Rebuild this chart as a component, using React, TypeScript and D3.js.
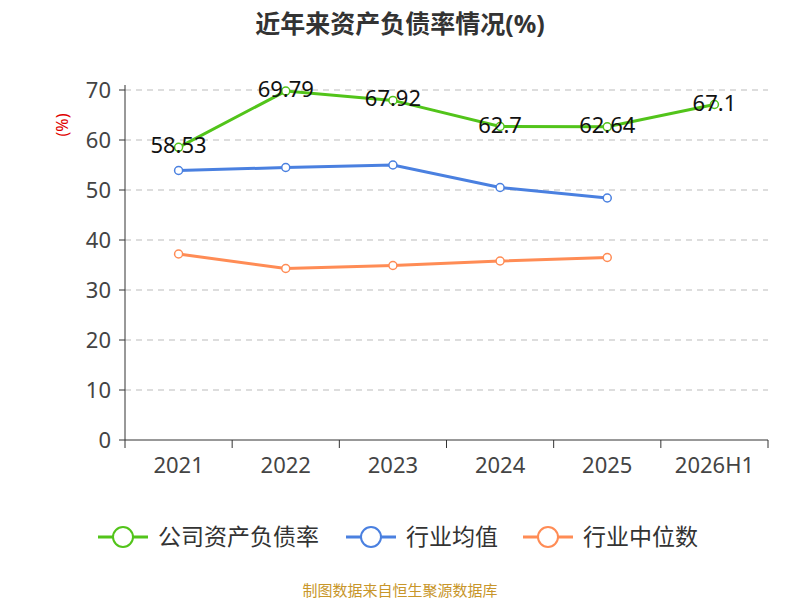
import * as d3 from 'd3';
import React from 'react';

const years = ['2021', '2022', '2023', '2024', '2025', '2026H1'];
const companyRatio = [58.53, 69.79, 67.92, 62.7, 62.64, 67.1];
const industryAvg = [53.9, 54.5, 55.0, 50.5, 48.4, null];
const industryMedian = [37.2, 34.3, 34.9, 35.8, 36.5, null];
const yTicks = [0, 10, 20, 30, 40, 50, 60, 70];

const seriesList = [
  { name: '公司资产负债率', values: companyRatio, color: '#52c41a' },
  { name: '行业均值', values: industryAvg, color: '#4a80e0' },
  { name: '行业中位数', values: industryMedian, color: '#ff8c55' },
];

export default function App() {
  const width = 800;
  const height = 600;
  const left = 125, right = 768, top = 90, bottom = 440;
  const font = '"Noto Sans", "Noto Sans CJK SC", sans-serif';

  const x = d3.scaleBand().domain(years).range([left, right]);
  const y = d3.scaleLinear().domain([0, 70]).range([bottom, top]);
  const cx = (d: string) => (x(d) || 0) + x.bandwidth() / 2;

  const line = d3
    .line<any>()
    .defined(d => d.v != null)
    .x(d => cx(d.year))
    .y(d => y(d.v));

  return (
    <svg width={width} height={height} style={{ position: 'absolute', left: 0, top: 0 }} fontFamily={font}>
      <rect width={width} height={height} fill="#fff" />
      <text x={400} y={33} textAnchor="middle" fontSize={25} fontWeight="bold" fill="#333">
        近年来资产负债率情况(%)
      </text>
      <text transform="translate(68,125) rotate(-90)" textAnchor="middle" fontSize={16} fill="#e00000">
        (%)
      </text>

      {yTicks.map(t => (
        <g key={t}>
          {t > 0 && (
            <line x1={left} x2={right} y1={y(t)} y2={y(t)} stroke="#bbb" strokeDasharray="6,5" />
          )}
          <line x1={left - 6} x2={left} y1={y(t)} y2={y(t)} stroke="#333" />
          <text x={left - 14} y={y(t) + 8} textAnchor="end" fontSize={22} fill="#444">
            {t}
          </text>
        </g>
      ))}
      <line x1={left} x2={left} y1={top - 5} y2={bottom} stroke="#333" />
      <line x1={left} x2={right} y1={bottom} y2={bottom} stroke="#333" />
      {[...years.map(d => x(d) || 0), right].map((p, i) => (
        <line key={i} x1={p} x2={p} y1={bottom} y2={bottom + 8} stroke="#333" />
      ))}
      {years.map(d => (
        <text key={d} x={cx(d)} y={473} textAnchor="middle" fontSize={22} fill="#444">
          {d}
        </text>
      ))}

      {seriesList.map(s => {
        const pts = years.map((year, i) => ({ year, v: s.values[i] }));
        return (
          <g key={s.name}>
            <path d={line(pts) || ''} fill="none" stroke={s.color} strokeWidth={3} />
            {pts
              .filter(p => p.v != null)
              .map(p => (
                <circle key={p.year} cx={cx(p.year)} cy={y(p.v)} r={4} fill="#fff" stroke={s.color} strokeWidth={1.5} />
              ))}
          </g>
        );
      })}
      {companyRatio.map((v, i) => (
        <text key={i} x={cx(years[i])} y={y(v) + 6} textAnchor="middle" fontSize={22} fill="#111">
          {v}
        </text>
      ))}

      {seriesList.map((s, i) => {
        const lx = [98, 346, 523][i];
        return (
          <g key={s.name}>
            <line x1={lx} x2={lx + 50} y1={537} y2={537} stroke={s.color} strokeWidth={3} />
            <circle cx={lx + 25} cy={537} r={10} fill="#fff" stroke={s.color} strokeWidth={2} />
            <text x={lx + 60} y={545} fontSize={23} fill="#333">
              {s.name}
            </text>
          </g>
        );
      })}

      <text x={400} y={596} textAnchor="middle" fontSize={15} fill="#c8962a">
        制图数据来自恒生聚源数据库
      </text>
    </svg>
  );
}
